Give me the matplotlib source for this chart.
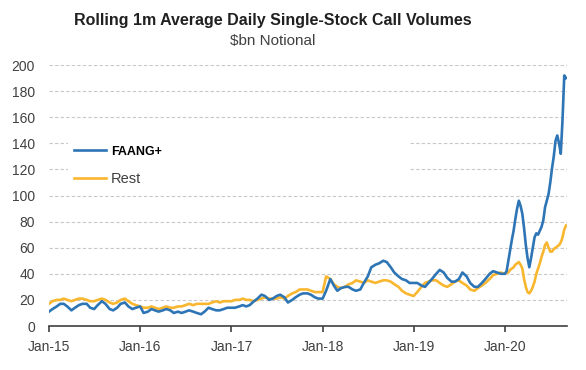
import matplotlib
matplotlib.use("Agg")
import matplotlib.pyplot as plt
import pandas as pd

plt.rcParams["font.family"] = ["Liberation Sans", "DejaVu Sans"]

# Semi-monthly readings (1st and 15th of each month), Jan-2015 .. Dec-2019, $bn
faang_2015_2019 = [
    11, 13, 15, 17, 17, 15, 12, 14, 16, 17, 17, 14, 13, 16, 19, 17, 13, 12, 14, 17, 18, 15, 13, 14,
    15, 10, 11, 13, 12, 11, 12, 13, 12, 10, 11, 10, 11, 12, 11, 10, 9, 11, 14, 13, 12, 12, 13, 14,
    14, 14, 15, 16, 15, 16, 19, 21, 24, 23, 20, 21, 23, 24, 22, 18, 20, 22, 24, 25, 25, 24, 22, 21,
    21, 27, 36, 31, 27, 29, 30, 30, 28, 27, 28, 33, 38, 45, 47, 48, 50, 49, 45, 41, 38, 36, 35, 33,
    33, 33, 31, 30, 33, 36, 40, 43, 41, 37, 34, 34, 36, 41, 38, 33, 30, 30, 33, 36, 40, 42, 41, 40,
]
rest_2015_2019 = [
    17, 19, 20, 20, 21, 20, 19, 20, 21, 21, 20, 19, 19, 20, 21, 20, 18, 17, 18, 20, 21, 19, 17, 16,
    15, 14, 14, 15, 14, 13, 14, 15, 14, 14, 15, 15, 16, 17, 16, 17, 17, 17, 17, 18, 19, 18, 19, 19,
    19, 20, 20, 21, 20, 20, 19, 20, 21, 22, 21, 21, 21, 22, 21, 23, 25, 26, 28, 28, 28, 27, 26, 26,
    26, 38, 36, 32, 30, 29, 30, 32, 33, 35, 34, 33, 35, 34, 33, 34, 35, 35, 34, 32, 30, 27, 25, 24,
    23, 26, 30, 33, 34, 35, 35, 33, 31, 30, 32, 34, 35, 33, 31, 28, 27, 29, 31, 33, 36, 39, 40, 41,
]
# Weekly readings for 2020 (from 1 Jan 2020)
faang_2020 = [
    40, 42, 50, 58, 66, 73, 82, 90, 96, 92, 86, 75, 62, 52, 45, 52, 60, 68,
    71, 70, 73, 76, 81, 91, 96, 101, 110, 121, 130, 142, 146, 140, 132, 158, 192, 190,
]
rest_2020 = [
    40, 41, 41, 43, 44, 45, 47, 48, 49, 47, 44, 36, 30, 26, 25, 27, 30, 34,
    40, 44, 48, 53, 57, 62, 64, 60, 57, 57, 59, 60, 61, 62, 64, 68, 74, 77,
]

dates = pd.date_range("2015-01-01", "2019-12-31", freq="SMS").append(
    pd.date_range("2020-01-01", periods=len(faang_2020), freq="7D")
)
faang = faang_2015_2019 + faang_2020
rest = rest_2015_2019 + rest_2020

year_ticks = pd.date_range("2015-01-01", "2020-01-01", freq="YS")
tick_labels = ["Jan-15", "Jan-16", "Jan-17", "Jan-18", "Jan-19", "Jan-20"]

blue = "#2E75B6"
gold = "#F9B62F"
grey = "#404040"

fig = plt.figure(figsize=(5.86, 3.7), dpi=100)
ax = fig.add_axes([0.0836, 0.1189, 0.884, 0.7054])

ax.plot(dates, faang, color=blue, lw=1.9, label="FAANG+", zorder=3)
ax.plot(dates, rest, color=gold, lw=1.9, label="Rest", zorder=2)

ax.set_ylim(0, 200)
ax.set_yticks(range(0, 201, 20))
ax.set_xlim(pd.Timestamp("2015-01-01"), pd.Timestamp("2020-09-06"))
ax.set_xticks(year_ticks)
ax.set_xticklabels(tick_labels)

ax.grid(axis="y", color="#C8C8C8", linestyle=(0, (3, 2)), linewidth=0.8)
ax.set_axisbelow(True)
for side in ["left", "right", "top"]:
    ax.spines[side].set_visible(False)
ax.spines["bottom"].set_color(grey)
ax.spines["bottom"].set_linewidth(1.2)
ax.tick_params(axis="y", length=0, labelsize=10, colors=grey, pad=10)
ax.tick_params(axis="x", length=4, width=1.2, color=grey, labelsize=10,
               labelcolor=grey, pad=6)

leg = ax.legend(loc="upper left", bbox_to_anchor=(0.022, 0.5, 0.688, 0.245),
                mode="expand", handlelength=2.2, handletextpad=0.35,
                labelspacing=1.0, borderpad=0.4, fontsize=10.5,
                facecolor="white", edgecolor="none", framealpha=1, fancybox=False)
leg.set_zorder(4)
texts = leg.get_texts()
texts[0].set_fontweight("bold")
texts[0].set_fontsize(9)
texts[0].set_color("black")
texts[1].set_color(grey)

fig.text(0.466, 0.945, "Rolling 1m Average Daily Single-Stock Call Volumes",
         ha="center", va="center", fontsize=11.5, fontweight="bold", color="#202020")
fig.text(0.466, 0.89, "$bn Notional", ha="center", va="center", fontsize=11,
         color=grey)

fig.savefig("out.png", dpi=100)
